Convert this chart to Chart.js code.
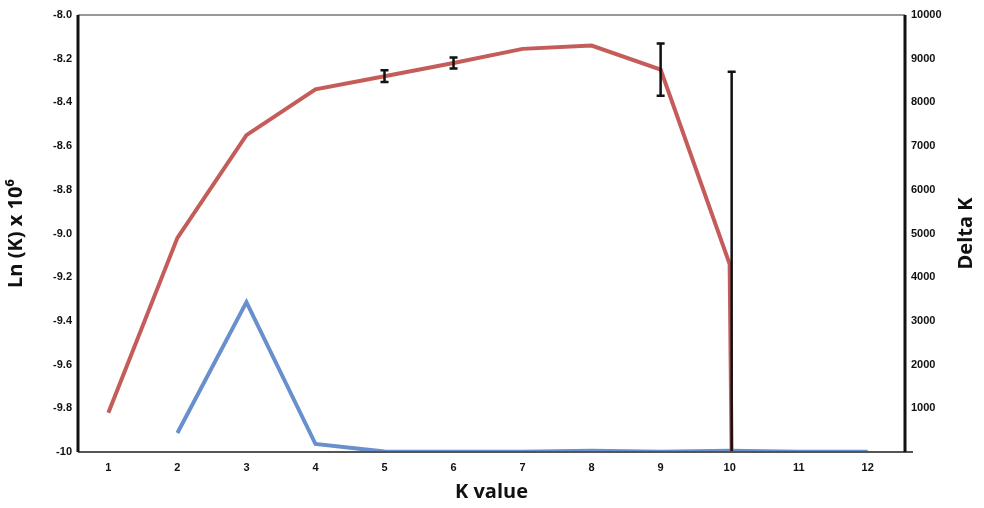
<!DOCTYPE html>
<html>
<head>
<meta charset="utf-8">
<script src="https://cdn.jsdelivr.net/npm/chart.js@4.4.0/dist/chart.umd.min.js"></script>
<style>
	body { margin:0; background:#fff; }
	#wrap { width:984px; height:508px; }
</style>
</head>
<body>
<div id="wrap"><canvas id="myChart"></canvas></div>
<script>
// # ===============================
// # = Donnees
// # ===============================
var kValues = [1, 2, 3, 4, 5, 6, 7, 8, 9, 10, 11];
var lnK = [-9.82, -9.02, -8.55, -8.34, -8.28, -8.22, -8.155, -8.14, -8.25, -9.14, -40];
var lnKErr = [0, 0, 0, 0, 0.027, 0.025, 0, 0, 0.12, 0.88, 0];
var deltaKx = [2, 3, 4, 5, 6, 7, 8, 9, 10, 11, 12];
var deltaK = [435, 3430, 183, 10, 5, 8, 30, 8, 30, 5, 5];
var leftTicks = [-10, -9.8, -9.6, -9.4, -9.2, -9.0, -8.8, -8.6, -8.4, -8.2, -8.0];
var rightTicks = [0, 1000, 2000, 3000, 4000, 5000, 6000, 7000, 8000, 9000, 10000];
var xTicks = [1, 2, 3, 4, 5, 6, 7, 8, 9, 10, 11, 12];

var tickFont = { family: '"Liberation Sans Narrow", "Liberation Sans", Arial', size: 11, weight: 'bold' };
var titleFont = { family: '"Open Sans", "Noto Sans", Arial', size: 20, weight: 'bold' };

// barres d'erreur
var errorBars = {
	id: 'errorBars',
	afterDatasetsDraw: function(chart) {
		var ctx = chart.ctx;
		var x = chart.scales.x, y = chart.scales.y;
		var area = chart.chartArea;
		ctx.save();
		ctx.beginPath();
		ctx.rect(area.left, area.top, area.right - area.left, area.bottom - area.top + 1);
		ctx.clip();
		ctx.strokeStyle = '#111';
		ctx.lineWidth = 2.5;
		kValues.forEach(function(k, i) {
			var e = lnKErr[i];
			if (!e) return;
			var px = x.getPixelForValue(k) + (k == 10 ? 2 : 0);
			var top = y.getPixelForValue(lnK[i] + e);
			var bot = y.getPixelForValue(lnK[i] - e);
			ctx.beginPath();
			ctx.moveTo(px, top); ctx.lineTo(px, bot);
			ctx.moveTo(px - 4, top); ctx.lineTo(px + 4, top);
			ctx.moveTo(px - 4, bot); ctx.lineTo(px + 4, bot);
			ctx.stroke();
		});
		ctx.restore();
	}
};

// cadre: haut gris + axes gauche/droite noirs + titre de droite
var frame = {
	id: 'frame',
	afterDraw: function(chart) {
		var ctx = chart.ctx, a = chart.chartArea;
		ctx.save();
		ctx.strokeStyle = '#777';
		ctx.lineWidth = 1.5;
		ctx.beginPath(); ctx.moveTo(a.left, a.top); ctx.lineTo(a.right, a.top); ctx.stroke();
		ctx.strokeStyle = '#555';
		ctx.lineWidth = 2;
		ctx.beginPath(); ctx.moveTo(a.left, a.bottom); ctx.lineTo(a.right + 8, a.bottom); ctx.stroke();
		ctx.strokeStyle = '#111';
		ctx.lineWidth = 3;
		ctx.beginPath(); ctx.moveTo(a.left, a.top); ctx.lineTo(a.left, a.bottom); ctx.stroke();
		ctx.beginPath(); ctx.moveTo(a.right, a.top); ctx.lineTo(a.right, a.bottom); ctx.stroke();
		// Delta K, lu de bas en haut comme a gauche
		var s = chart.scales.y1;
		ctx.translate(s.right - 18, (a.top + a.bottom) / 2);
		ctx.rotate(-Math.PI / 2);
		ctx.fillStyle = '#111';
		ctx.font = 'bold 20px "Open Sans", "Noto Sans", Arial';
		ctx.textAlign = 'center';
		ctx.textBaseline = 'middle';
		ctx.fillText('Delta K', 0, 0);
		ctx.restore();
	}
};

const ctx = document.getElementById('myChart');

new Chart(ctx, {
	type: 'line',
	data: {
		datasets: [{
			label: 'Ln (K)',
			data: kValues.map(function(k, i) { return { x: k, y: lnK[i] }; }),
			borderColor: 'rgb(196, 92, 90)',
			borderWidth: 4,
			pointRadius: 0,
			yAxisID: 'y',
			clip: { left: 0, top: 0, right: 0, bottom: 0 }
		}, {
			label: 'Delta K',
			data: deltaKx.map(function(k, i) { return { x: k, y: deltaK[i] }; }),
			borderColor: 'rgb(104, 144, 204)',
			borderWidth: 4,
			pointRadius: 0,
			yAxisID: 'y1'
		}]
	},
	options: {
		responsive: true,
		maintainAspectRatio: false,
		animation: false,
		layout: { padding: { top: 15, right: 0, left: 0, bottom: 0 } },
		plugins: { legend: { display: false }, tooltip: { enabled: false } },
		scales: {
			x: {
				type: 'linear',
				min: 0.56,
				max: 12.54,
				afterBuildTicks: function(s) { s.ticks = xTicks.map(function(v) { return { value: v }; }); },
				afterFit: function(s) { s.height = 56; },
				grid: { display: false, drawTicks: true, tickLength: 5, tickColor: '#222' },
				border: { display: false },
				ticks: { color: '#111', font: tickFont, padding: 4, maxRotation: 0 },
				title: { display: true, text: 'K value', color: '#111', font: titleFont, padding: { top: 0 } }
			},
			y: {
				position: 'left',
				min: -10,
				max: -8,
				afterBuildTicks: function(s) { s.ticks = leftTicks.map(function(v) { return { value: v }; }); },
				afterFit: function(s) { s.width = 78; },
				grid: { display: false, drawTicks: true, tickLength: 4, tickColor: '#333' },
				border: { display: false },
				ticks: {
					color: '#111', font: tickFont, padding: 2,
					callback: function(v) { return v == -10 ? '-10' : v.toFixed(1); }
				},
				title: { display: true, text: 'Ln (K) x 10\u2076', color: '#111', font: titleFont, padding: { bottom: 6 } }
			},
			y1: {
				position: 'right',
				min: 0,
				max: 10000,
				afterBuildTicks: function(s) { s.ticks = rightTicks.map(function(v) { return { value: v }; }); },
				afterFit: function(s) { s.width = 79; },
				grid: { display: false, drawTicks: true, tickLength: 4, tickColor: '#333' },
				border: { display: false },
				ticks: {
					color: '#111', font: tickFont, padding: 2,
					callback: function(v) { return v == 0 ? '' : v; }
				},
				title: { display: false }
			}
		}
	},
	plugins: [errorBars, frame]
});
</script>
</body>
</html>
